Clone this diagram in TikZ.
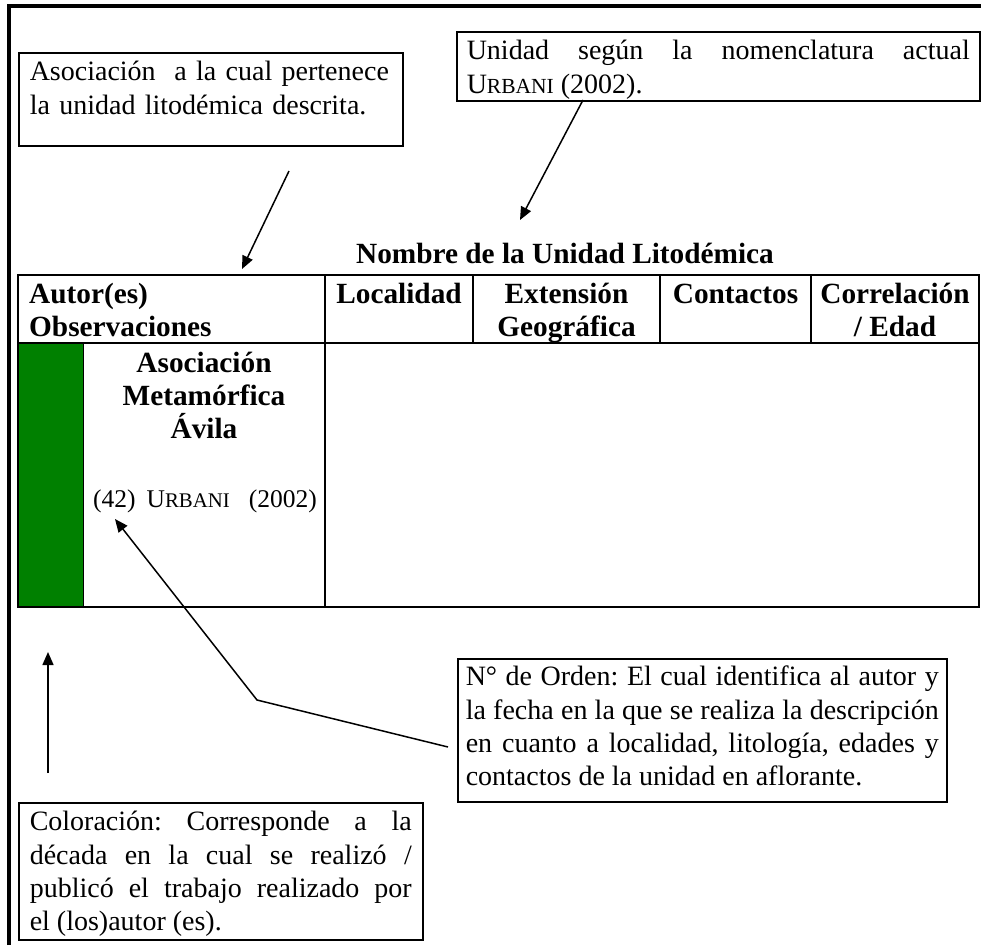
\documentclass[tikz,border=0pt]{standalone}
\usepackage{fontspec}
\setmainfont{Liberation Serif}
\usetikzlibrary{arrows.meta}
\definecolor{avgreen}{HTML}{008000}
\frenchspacing
\newcommand\fsz{\fontsize{28}{33.3}\selectfont}
\newcommand\fszb{\fontsize{29.3}{33.3}\selectfont}
\newcommand\fszs{\fontsize{25.5}{28}\selectfont}
\newcommand\urb{U{\fontsize{21.5}{33}\selectfont RBANI}}
\newcommand\urbs{U{\fontsize{20.8}{28}\selectfont RBANI}}
\begin{document}
\begin{tikzpicture}[x=1pt,y=-1pt,
  lbl/.style={draw,line width=1.5pt,inner ysep=0pt,anchor=north west,font=\fsz},
  arr/.style={line width=1.5pt,-{Triangle[length=13pt,width=11pt]}},
  tline/.style={line width=2pt},
  hd/.style={font=\fszb\bfseries,anchor=base,inner sep=0pt},
  bt/.style={font=\fszs,anchor=base west,inner sep=0pt}]
\useasboundingbox (0,0) rectangle (981,945);
% outer frame
\draw[line width=4pt] (9,945) -- (9,5.5) -- (981,5.5);
% callout boxes
\node[lbl, inner xsep=11pt, text width=362pt, text height=28pt, text depth=65pt, align=left] (boxA) at (18,52)
  {\mbox{Asociación\ \ a la cual pertenece}\\ \mbox{la unidad litodémica descrita.}};
\node[lbl, inner xsep=10pt, text width=503pt, text height=28pt, text depth=41pt, align=justify] (boxB) at (456,31)
  {Unidad según la nomenclatura actual\linebreak \urb{} (2002).};
\node[lbl, inner xsep=8pt, text width=473pt, text height=27pt, text depth=116pt, align=justify] (boxC) at (457,658)
  {N° de Orden: El cual identifica al autor y\linebreak la fecha en la que se realiza la descripción\linebreak en cuanto a localidad, litología, edades y\linebreak contactos de la unidad en aflorante.};
\node[lbl, inner xsep=11pt, text width=382pt, text height=28pt, text depth=109pt, align=justify] (boxD) at (18,802)
  {Coloración: Corresponde a la\linebreak década en la cual se realizó /\linebreak publicó el trabajo realizado por\linebreak el (los)autor (es).};
% title
\node[hd] (title) at (565,263) {Nombre de la Unidad Litodémica};
% table
\fill[avgreen] (18,343) rectangle (83,607);
\draw[line width=1pt] (83,343) -- (83,607);
\draw[tline] (18,275) rectangle (979,607);
\draw[tline] (18,343) -- (979,343);
\draw[tline] (325,275) -- (325,607);
\draw[tline] (473,275) -- (473,343);
\draw[tline] (660,275) -- (660,343);
\draw[tline] (811,275) -- (811,343);
% header texts
\node[hd,anchor=base west] (hAut) at (29,303) {Autor(es)};
\node[hd,anchor=base west] (hObs) at (29,336) {Observaciones};
\node[hd] (hLoc) at (399,303) {Localidad};
\node[hd] (hExt1) at (566.5,303) {Extensión};
\node[hd] (hExt2) at (566.5,336) {Geográfica};
\node[hd] (hCon) at (735.5,303) {Contactos};
\node[hd] (hCor1) at (895,303) {Correlación};
\node[hd] (hCor2) at (895,336) {/ Edad};
% body
\node[hd] (b1) at (204,372) {Asociación};
\node[hd] (b2) at (204,405) {Metamórfica};
\node[hd] (b3) at (204,438) {Ávila};
\node[bt] (b4) at (93,507) {(42)\hskip11pt\urbs\hskip19pt(2002)};
% arrows
\coordinate (a1s) at (289,171);
\coordinate (a1e) at (242,269);
\draw[arr] (a1s) -- (a1e);
\coordinate (a2s) at (583,100);
\coordinate (a2e) at (520,220);
\draw[arr] (a2s) -- (a2e);
\coordinate (a3s) at (448,747);
\coordinate (a3m) at (257,700);
\coordinate (a3e) at (115,519);
\draw[arr,line join=miter] (a3s) -- (a3m) -- (a3e);
\coordinate (a4s) at (48,773);
\coordinate (a4e) at (48,652);
\draw[arr] (a4s) -- (a4e);
\end{tikzpicture}
\end{document}
